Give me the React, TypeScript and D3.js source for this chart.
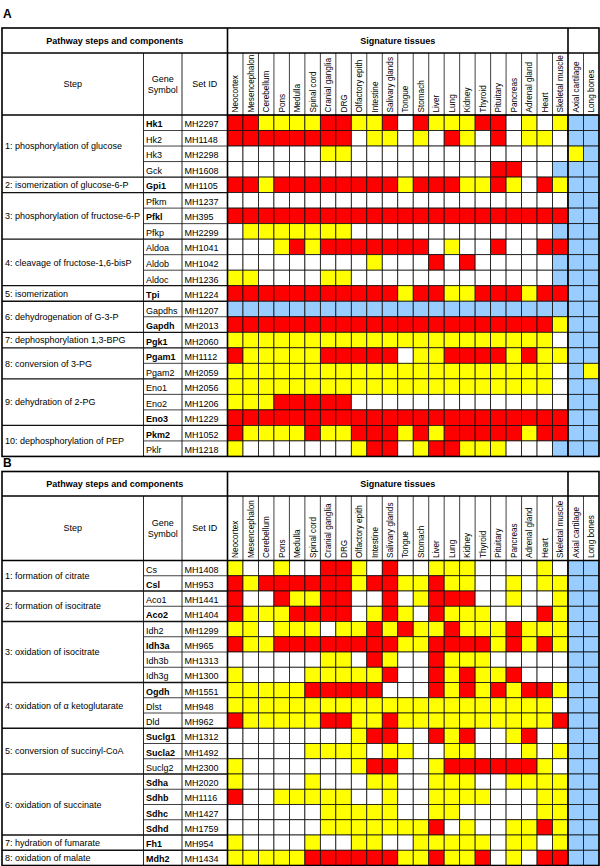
import React from "react";
import * as d3 from "d3";

const tissues = [
  "Neocortex", "Mesencephalon", "Cerebellum", "Pons", "Medulla", "Spinal cord",
  "Cranial ganglia", "DRG", "Olfactory epith", "Intestine", "Salivary glands",
  "Tongue", "Stomach", "Liver", "Lung", "Kidney", "Thyroid", "Pituitary",
  "Pancreas", "Adrenal gland", "Heart", "Skeletal muscle",
];
const boneTissues = ["Axial cartilage", "Long bones"];

// Panel A: glycolysis
const stepsA = [
  "1: phosphorylation of glucose",
  "2: isomerization of glucose-6-P",
  "3: phosphorylation of fructose-6-P",
  "4: cleavage of fructose-1,6-bisP",
  "5: isomerization",
  "6: dehydrogenation of G-3-P",
  "7: dephosphorylation 1,3-BPG",
  "8: conversion of 3-PG",
  "9: dehydration of 2-PG",
  "10: dephosphorylation of PEP",
];
const stepSizesA = [4, 1, 3, 3, 1, 2, 1, 2, 3, 2];
const genesA = [
  "Hk1", "Hk2", "Hk3", "Gck", "Gpi1", "Pfkm", "Pfkl", "Pfkp", "Aldoa", "Aldob",
  "Aldoc", "Tpi", "Gapdhs", "Gapdh", "Pgk1", "Pgam1", "Pgam2", "Eno1", "Eno2",
  "Eno3", "Pkm2", "Pklr",
];
const boldGenesA = ["Hk1", "Gpi1", "Pfkl", "Tpi", "Gapdh", "Pgk1", "Pgam1", "Eno3", "Pkm2"];
const setIdsA = [
  "MH2297", "MH1148", "MH2298", "MH1608", "MH1105", "MH1237", "MH395", "MH2299",
  "MH1041", "MH1042", "MH1236", "MH1224", "MH1207", "MH2013", "MH2060", "MH1112",
  "MH2059", "MH2056", "MH1206", "MH1229", "MH1052", "MH1218",
];
// R = red, Y = yellow, W = white, B = blue ; 22 tissues + 2 bone tissues
const cellsA = [
  "RRYYYYRRYYRWRYYYRRWYWYBB",
  "RRRRRRRRWYYWYWRYWRWYYWBB",
  "WWWWWWYYWWWWWWWWWWWWWWYB",
  "WWWWWWWWWWWWWWWWWRRWWBBB",
  "RRYRRRRRRRRYRRRYYRYWRYBB",
  "WWWWWWWWWWWWWWWWWWWWWWBB",
  "RRRRRRRRRRRRRRRRRRRRRRBB",
  "WYYYYYYYWWWWWWWWWWWWWBBB",
  "WWWYRYRRRRRRRWYWWRWWRRBB",
  "WWWWWWWWWYWWWRWRWWWWWBBB",
  "YYWWWWYYWWWWWWWWWWWWWBBB",
  "RRRRRRRRRRRYRRYYRRRYRRBB",
  "BBBBBBBBBBBBBBBBBBBBBBBB",
  "RRRRRRRRRRRRRRRRRRRRRYBB",
  "YYYYYYYYYYYYYYYYYYYYYWBB",
  "RYYYYYRRRRRWYYRRRRYRYYBB",
  "YYYYYYYYYYYYYYYYYYYYYWBY",
  "YYYYYYYYYYYYYYYYYYYYYWBB",
  "YYYRRRRRWWWWWWWWWWWWWWBB",
  "RRRRRRRRRRRRRRRRRRRRRRBB",
  "RYYYYRYYRRRYRYRRRRRYRRBB",
  "YWWWWWWWYRRWYRRYYYWWWBBB",
];

// Panel B: TCA cycle
const stepsB = [
  "1: formation of citrate",
  "2: formation of isocitrate",
  "3: oxidation of isocitrate",
  "4: oxidation of  \u03b1 ketoglutarate",
  "5: conversion of succinyl-CoA",
  "6: oxidation of succinate",
  "7: hydration of fumarate",
  "8: oxidation of malate",
];
const stepSizesB = [2, 2, 4, 3, 3, 4, 1, 1];
const genesB = [
  "Cs", "Csl", "Aco1", "Aco2", "Idh2", "Idh3a", "Idh3b", "Idh3g", "Ogdh", "Dlst",
  "Dld", "Suclg1", "Sucla2", "Suclg2", "Sdha", "Sdhb", "Sdhc", "Sdhd", "Fh1", "Mdh2",
];
const boldGenesB = ["Csl", "Aco2", "Idh3a", "Ogdh", "Suclg1", "Sucla2", "Sdha", "Sdhb", "Sdhc", "Sdhd", "Fh1", "Mdh2"];
const setIdsB = [
  "MH1408", "MH953", "MH1441", "MH1404", "MH1299", "MH965", "MH1313", "MH1300",
  "MH1551", "MH948", "MH962", "MH1312", "MH1492", "MH2300", "MH2020", "MH1116",
  "MH1427", "MH1759", "MH954", "MH1434",
];
const cellsB = [
  "YWWYWWRRYWRWWYYYWWWWYWBB",
  "RYRRRRRRYRRYYRYYWWYWYYBB",
  "RWWRYYRRWWRWYRRRWWYWWYBB",
  "RYYYRRRRWYRYWRYYYWWWRYBB",
  "YYWYYYWYYRYRYYRYYYRYYYBB",
  "RYYRRRRRRRRYYRRRRYRYRYBB",
  "WWWWWWYYWRYWWRYYYWWWWWBB",
  "YWWWWYYYYYRWWRYRYYRWWWBB",
  "YYYYYRRRRRWWWRYRYRYRRYBB",
  "YYYYYYYYYYYYYYYYYYYYYWBB",
  "RYYYYYRRYYRYYYYYYYYYYRBB",
  "WWWWWWWWYRRWWRYRWWYRWWBB",
  "WWWWWYYYYWYYWWYYWWWYWYBB",
  "YWWWWWWWYRRWWYRRRRRRYWBB",
  "YWWWWYWWWYYWWYYYWWYYYYBB",
  "RWWYYYYYWWYWWYYYYWWWYYBB",
  "WWWWWWYYYYYWWYYWWWWWYYBB",
  "WWWWWWYYYYYYYRWYWWYYRYBB",
  "YWWWWYWWYYWWYYYYYWYYWYBB",
  "YYYYYRRRRRRYYRYYRWYWRRBB",
];

const colorOf: Record<string, string> = {
  R: "#FF0000",
  Y: "#FFFF00",
  W: "#FFFFFF",
  B: "#99CCFF",
};

const FONT = "'Liberation Sans', Arial, Helvetica, sans-serif";

type PanelProps = {
  label: string;
  labelY: number;
  top: number;
  h1: number;
  h2: number;
  rowH: number;
  steps: string[];
  sizes: number[];
  genes: string[];
  bold: string[];
  ids: string[];
  cells: string[];
};

function Panel(p: PanelProps) {
  const xLeft = 2;
  const xGene = 143.5;
  const xSet = 182;
  const xT0 = 227.5;
  const xT1 = 568;
  const xEnd = 599;
  const h1Bottom = p.top + p.h1;
  const dataTop = h1Bottom + p.h2;
  const n = p.genes.length;
  const bottom = dataTop + n * p.rowH;

  const x = d3.scaleBand<number>().domain(d3.range(22)).range([xT0, xT1]);
  const xb = d3.scaleBand<number>().domain(d3.range(2)).range([xT1, xEnd]);
  const y = d3.scaleBand<number>().domain(d3.range(n)).range([dataTop, bottom]);
  const colX = (j: number) => (j < 22 ? x(j)! : xb(j - 22)!);
  const colW = (j: number) => (j < 22 ? x.bandwidth() : xb.bandwidth());

  const starts: number[] = [];
  let acc = 0;
  p.sizes.forEach((s) => {
    starts.push(acc);
    acc += s;
  });
  const groupEnds = new Set(starts.map((s, i) => s + p.sizes[i]));

  const fs = 9;
  const allCols = [...tissues, ...boneTissues];

  return (
    <g fontFamily={FONT}>
      <text x={3} y={p.labelY} fontSize={12} fontWeight="bold">{p.label}</text>
      {p.cells.map((row, i) =>
        row.split("").map((c, j) => (
          <rect
            key={`c${i}-${j}`}
            x={colX(j)}
            y={y(i)!}
            width={colW(j)}
            height={y.bandwidth()}
            fill={colorOf[c]}
            stroke="#111"
            strokeWidth={0.8}
          />
        ))
      )}
      <text x={(xLeft + xT0) / 2} y={p.top + p.h1 / 2 + 3.2} fontSize={9} fontWeight="bold" textAnchor="middle">
        Pathway steps and components
      </text>
      <text x={(xT0 + xT1) / 2} y={p.top + p.h1 / 2 + 3.2} fontSize={9} fontWeight="bold" textAnchor="middle">
        Signature tissues
      </text>
      <text x={(xLeft + xGene) / 2} y={h1Bottom + p.h2 / 2 + 3.2} fontSize={fs} textAnchor="middle">Step</text>
      <text x={(xGene + xSet) / 2} y={h1Bottom + p.h2 / 2 - 2} fontSize={fs} textAnchor="middle">Gene</text>
      <text x={(xGene + xSet) / 2} y={h1Bottom + p.h2 / 2 + 8.5} fontSize={fs} textAnchor="middle">Symbol</text>
      <text x={(xSet + xT0) / 2} y={h1Bottom + p.h2 / 2 + 3.2} fontSize={fs} textAnchor="middle">Set ID</text>
      {allCols.map((t, j) => {
        const cx = colX(j) + colW(j) / 2 + 3;
        const cy = dataTop - 2.5;
        return (
          <text key={`t${j}`} transform={`translate(${cx},${cy}) rotate(-90)`} fontSize={8.2}>
            {t}
          </text>
        );
      })}
      {d3.range(1, 22).map((j) => (
        <line key={`hv${j}`} x1={x(j)!} x2={x(j)!} y1={h1Bottom} y2={dataTop} stroke="#111" strokeWidth={0.8} />
      ))}
      <line x1={xb(1)!} x2={xb(1)!} y1={h1Bottom} y2={dataTop} stroke="#111" strokeWidth={0.8} />
      {p.steps.map((s, g) => {
        const y0 = y(starts[g])!;
        const y1 = y0 + p.sizes[g] * p.rowH;
        return (
          <text key={`s${g}`} x={5} y={(y0 + y1) / 2 + 3.2} fontSize={fs}>{s}</text>
        );
      })}
      {p.genes.map((gname, i) => (
        <g key={`g${i}`}>
          <text
            x={xGene + 2.5}
            y={y(i)! + p.rowH - 3.2}
            fontSize={fs}
            fontWeight={p.bold.includes(gname) ? "bold" : "normal"}
          >
            {gname}
          </text>
          <text x={xSet + 2.5} y={y(i)! + p.rowH - 3.2} fontSize={fs}>{p.ids[i]}</text>
        </g>
      ))}
      {d3.range(1, n).map((i) => {
        const yy = y(i)!;
        const isGroup = groupEnds.has(i);
        return (
          <line
            key={`rl${i}`}
            x1={isGroup ? xLeft : xGene}
            x2={xT0}
            y1={yy}
            y2={yy}
            stroke="#111"
            strokeWidth={isGroup ? 1.3 : 0.8}
          />
        );
      })}
      <line x1={xGene} x2={xGene} y1={h1Bottom} y2={bottom} stroke="#111" strokeWidth={0.9} />
      <line x1={xSet} x2={xSet} y1={h1Bottom} y2={bottom} stroke="#111" strokeWidth={0.9} />
      <line x1={xT0} x2={xT0} y1={p.top} y2={bottom} stroke="#000" strokeWidth={1.6} />
      <line x1={xT1} x2={xT1} y1={p.top} y2={bottom} stroke="#000" strokeWidth={1.6} />
      <line x1={xLeft} x2={xEnd} y1={h1Bottom} y2={h1Bottom} stroke="#000" strokeWidth={1.4} />
      <line x1={xLeft} x2={xEnd} y1={dataTop} y2={dataTop} stroke="#000" strokeWidth={1.6} />
      <rect x={xLeft} y={p.top} width={xEnd - xLeft} height={bottom - p.top} fill="none" stroke="#000" strokeWidth={1.6} />
    </g>
  );
}

export default function App() {
  return (
    <svg width={600} height={866} style={{ display: "block", position: "absolute", left: 0, top: 0, background: "#fff" }}>
      <rect x={0} y={0} width={600} height={866} fill="#fff" />
      <Panel
        label="A"
        labelY={18}
        top={28}
        h1={25}
        h2={62}
        rowH={15.52}
        steps={stepsA}
        sizes={stepSizesA}
        genes={genesA}
        bold={boldGenesA}
        ids={setIdsA}
        cells={cellsA}
      />
      <Panel
        label="B"
        labelY={467}
        top={471.5}
        h1={24.5}
        h2={64.5}
        rowH={15.25}
        steps={stepsB}
        sizes={stepSizesB}
        genes={genesB}
        bold={boldGenesB}
        ids={setIdsB}
        cells={cellsB}
      />
    </svg>
  );
}
